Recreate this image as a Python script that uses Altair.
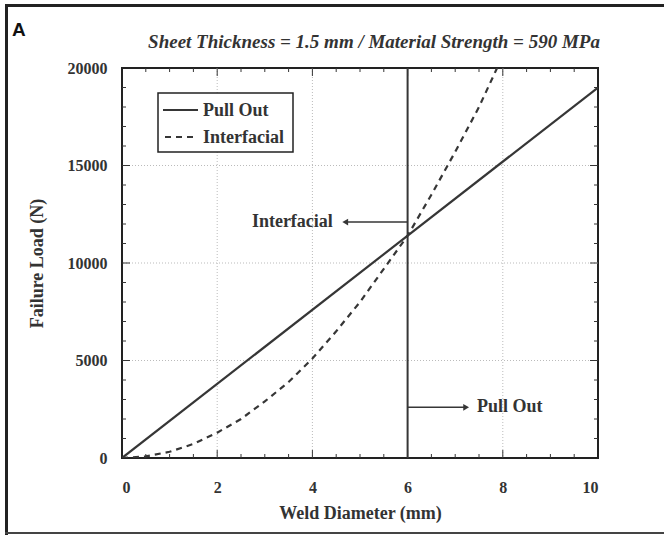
import altair as alt
import pandas as pd

# ---- data ----
pull_d = [0, 10]
pull_load = [0, 19000]

inter_d = [0, 0.5, 1, 1.5, 2, 2.5, 3, 3.5, 4, 4.5, 5, 5.5, 6, 6.5, 7, 7.5, 7.88]
inter_load = [0, 80, 320, 720, 1300, 2000, 2900, 3900, 5100, 6500, 8000, 9700, 11400, 13500, 15700, 18000, 20000]

series_names = ["Pull Out", "Interfacial"]

x_ticks = [0, 2, 4, 6, 8, 10]
y_ticks = [0, 5000, 10000, 15000, 20000]
x_grid = [2, 4, 8]
y_grid = [5000, 10000, 15000]
x_minor = [0.5, 1, 1.5, 2.5, 3, 3.5, 4.5, 5, 5.5, 6.5, 7, 7.5, 8.5, 9, 9.5]
y_minor = [1000, 2000, 3000, 4000, 6000, 7000, 8000, 9000, 11000, 12000, 13000, 14000,
           16000, 17000, 18000, 19000]
x_major_in = [2, 4, 6, 8]
y_major_in = [5000, 10000, 15000]

limit_d = 6
title_text = "Sheet Thickness = 1.5 mm / Material Strength = 590 MPa"

W, H = 476, 390
SERIF = "Liberation Serif"
DARK = "#363636"
DASH = [6, 5]

xs = alt.Scale(domain=[0, 10], nice=False)
ys = alt.Scale(domain=[0, 20000], nice=False)

pull_df = pd.DataFrame({"d": pull_d, "load": pull_load})
inter_df = pd.DataFrame({"d": inter_d, "load": inter_load})

xgrid = alt.Chart(pd.DataFrame({"d": x_grid})).mark_rule(
    color="#bbbbbb", strokeDash=[1, 2], strokeWidth=1
).encode(x=alt.X("d:Q", scale=xs))
ygrid = alt.Chart(pd.DataFrame({"v": y_grid})).mark_rule(
    color="#bbbbbb", strokeDash=[1, 2], strokeWidth=1
).encode(y=alt.Y("v:Q", scale=ys))

# inward ticks (bottom, top, left, right)
def xt(vals, length):
    df = pd.DataFrame({"d": vals})
    b = alt.Chart(df).mark_rule(color=DARK, strokeWidth=1).encode(
        x=alt.X("d:Q", scale=xs), y=alt.value(H), y2=alt.value(H - length))
    t = alt.Chart(df).mark_rule(color=DARK, strokeWidth=1).encode(
        x=alt.X("d:Q", scale=xs), y=alt.value(0), y2=alt.value(length))
    return b + t

def yt(vals, length):
    df = pd.DataFrame({"v": vals})
    l = alt.Chart(df).mark_rule(color=DARK, strokeWidth=1).encode(
        y=alt.Y("v:Q", scale=ys), x=alt.value(0), x2=alt.value(length))
    r = alt.Chart(df).mark_rule(color=DARK, strokeWidth=1).encode(
        y=alt.Y("v:Q", scale=ys), x=alt.value(W), x2=alt.value(W - length))
    return l + r

xaxis = alt.Axis(values=x_ticks, title="Weld Diameter (mm)", grid=False, format="d",
                 ticks=False, domain=False, labelPadding=21, titlePadding=9)
yaxis = alt.Axis(values=y_ticks, title="Failure Load (N)", grid=False, format="d",
                 ticks=False, domain=False, labelPadding=15, titlePadding=21)

pull_line = alt.Chart(pull_df).mark_line(strokeWidth=2.2, clip=True, color=DARK).encode(
    x=alt.X("d:Q", scale=xs, axis=xaxis),
    y=alt.Y("load:Q", scale=ys, axis=yaxis),
    order=alt.Order("d:Q"),
)
inter_line = alt.Chart(inter_df).mark_line(strokeWidth=2.2, clip=True, color=DARK,
                                           strokeDash=DASH).encode(
    x=alt.X("d:Q", scale=xs),
    y=alt.Y("load:Q", scale=ys),
    order=alt.Order("d:Q"),
)

vline = alt.Chart(pd.DataFrame({"d": [limit_d]})).mark_rule(
    color=DARK, strokeWidth=2
).encode(x=alt.X("d:Q", scale=xs))

# annotation arrows
arr_df = pd.DataFrame([
    {"x1": 6, "x2": 4.72, "y": 12100},
    {"x1": 6, "x2": 7.2, "y": 2600},
])
arrows = alt.Chart(arr_df).mark_rule(color=DARK, strokeWidth=1.5).encode(
    x=alt.X("x1:Q", scale=xs), x2="x2:Q", y=alt.Y("y:Q", scale=ys))
heads_df = pd.DataFrame([
    {"x": 4.69, "y": 12100, "s": "triangle-left"},
    {"x": 7.23, "y": 2600, "s": "triangle-right"},
])
heads = alt.Chart(heads_df).mark_point(filled=True, size=45, color=DARK, opacity=1).encode(
    x=alt.X("x:Q", scale=xs), y=alt.Y("y:Q", scale=ys),
    shape=alt.Shape("s:N", scale=None))

txt_df = pd.DataFrame([
    {"x": 4.43, "y": 12100, "t": "Interfacial", "a": "right"},
    {"x": 7.46, "y": 2600, "t": "Pull Out", "a": "left"},
])
txt_l = alt.Chart(txt_df[txt_df.a == "right"]).mark_text(
    align="right", baseline="middle", font=SERIF, fontWeight="bold", fontSize=18,
    color="#333333").encode(x=alt.X("x:Q", scale=xs), y=alt.Y("y:Q", scale=ys), text="t:N")
txt_r = alt.Chart(txt_df[txt_df.a == "left"]).mark_text(
    align="left", baseline="middle", font=SERIF, fontWeight="bold", fontSize=18,
    color="#333333").encode(x=alt.X("x:Q", scale=xs), y=alt.Y("y:Q", scale=ys), text="t:N")

# legend box (drawn by hand)
one = pd.DataFrame({"k": [0]})
leg_box = alt.Chart(one).mark_rect(fill="white", stroke="#222222", strokeWidth=1.5).encode(
    x=alt.value(36), x2=alt.value(171), y=alt.value(25), y2=alt.value(84))
leg_solid = alt.Chart(one).mark_rule(color=DARK, strokeWidth=2.2).encode(
    x=alt.value(41), x2=alt.value(76), y=alt.value(42))
leg_dash = alt.Chart(one).mark_rule(color=DARK, strokeWidth=2.2, strokeDash=DASH).encode(
    x=alt.value(43), x2=alt.value(76), y=alt.value(69))
leg_txt1 = alt.Chart(pd.DataFrame({"t": [series_names[0]]})).mark_text(
    align="left", baseline="middle", font=SERIF, fontWeight="bold", fontSize=18,
    color="#333333").encode(x=alt.value(81), y=alt.value(43), text="t:N")
leg_txt2 = alt.Chart(pd.DataFrame({"t": [series_names[1]]})).mark_text(
    align="left", baseline="middle", font=SERIF, fontWeight="bold", fontSize=18,
    color="#333333").encode(x=alt.value(81), y=alt.value(70), text="t:N")

title_mark = alt.Chart(pd.DataFrame({"t": [title_text]})).mark_text(
    align="center", baseline="middle", font=SERIF, fontStyle="italic", fontWeight="bold",
    fontSize=19, color="#333333").encode(x=alt.value(252), y=alt.value(-26), text="t:N")

# panel letter and outer frame (decoration)
letter = alt.Chart(pd.DataFrame({"t": ["A"]})).mark_text(
    align="left", baseline="middle", font="Liberation Sans", fontWeight="bold",
    fontSize=19, color="#111111").encode(x=alt.value(-110), y=alt.value(-38), text="t:N")

frame_left = alt.Chart(one).mark_rule(color="#222222", strokeWidth=3).encode(
    x=alt.value(-115.5), y=alt.value(-63), y2=alt.value(H + 77))
frame_top = alt.Chart(one).mark_rule(color="#222222", strokeWidth=3).encode(
    y=alt.value(-62.5), x=alt.value(-117), x2=alt.value(W + 66))
frame_bot = alt.Chart(one).mark_rule(color="#444444", strokeWidth=2).encode(
    y=alt.value(H + 75), x=alt.value(-117), x2=alt.value(W + 66))

chart = alt.layer(
    xgrid, ygrid,
    xt(x_minor, 4), xt(x_major_in, 8), yt(y_minor, 4), yt(y_major_in, 8),
    pull_line, inter_line, vline, arrows, heads, txt_l, txt_r,
    leg_box, leg_solid, leg_dash, leg_txt1, leg_txt2,
    title_mark, letter, frame_left, frame_top, frame_bot,
).properties(
    width=W, height=H,
    autosize=alt.AutoSizeParams(type="none"),
    padding={"left": 122, "top": 68, "right": 66, "bottom": 77},
    background="white",
).configure_view(
    stroke="#222222", strokeWidth=2
).configure_axis(
    labelFont=SERIF, labelFontSize=16, labelFontWeight="bold", labelColor="#333333",
    titleFont=SERIF, titleFontSize=18, titleFontWeight="bold", titleColor="#333333",
)

chart.save("out.html", embed_options={"renderer": "svg", "actions": False})
